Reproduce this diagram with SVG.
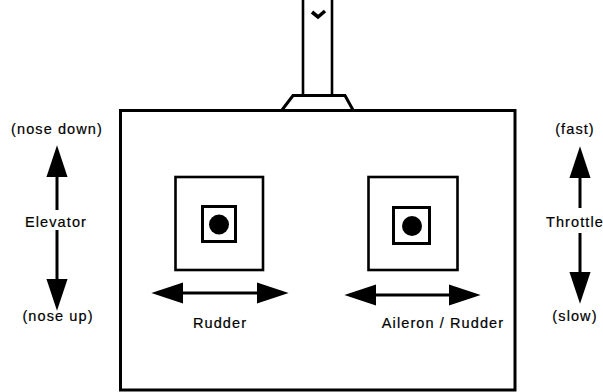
<svg xmlns="http://www.w3.org/2000/svg" width="603" height="392" viewBox="0 0 603 392">
  <style>
    .ln { fill: none; stroke: #000; stroke-width: 2.6; }
    .thick { fill: none; stroke: #000; stroke-width: 3; }
    .shaft { fill: none; stroke: #000; stroke-width: 3; marker-end: url(#head); }
    .both { fill: none; stroke: #000; stroke-width: 3; marker-start: url(#head); marker-end: url(#head); }
    .lbl { font-family: "Liberation Sans", Arial, Helvetica, sans-serif; font-size: 14.5px; letter-spacing: 1.1px; fill: #000; stroke: #000; stroke-width: 0.2; }
    .mid { text-anchor: middle; }
  </style>
  <defs>
    <marker id="head" markerUnits="userSpaceOnUse" markerWidth="32" markerHeight="22" viewBox="0 0 30 20" refX="20" refY="10" orient="auto-start-reverse">
      <path d="M0,0 L30,10 L0,20 Z" fill="#000"/>
    </marker>
  </defs>

  <!-- transmitter body with antenna -->
  <g id="transmitter">
    <rect class="thick" x="120.5" y="110.5" width="394.5" height="279.5"/>
    <path class="ln" d="M303,0 V95 M332,0 V95"/>
    <path fill="none" stroke="#000" stroke-width="3.6" stroke-linejoin="miter" d="M312,12 L318,17 L325,11"/>
    <path class="thick" d="M282,110 L293,95.5 H345 L353,110"/>
  </g>

  <!-- left stick -->
  <g id="left-stick">
    <rect class="ln" x="175.5" y="177" width="87.5" height="93"/>
    <rect class="thick" x="202.5" y="206.5" width="33" height="35"/>
    <circle cx="219" cy="224.5" r="10" fill="#000"/>
  </g>

  <!-- right stick -->
  <g id="right-stick">
    <rect class="ln" x="368.5" y="177" width="89" height="93"/>
    <rect class="thick" x="393.5" y="207.5" width="36" height="36"/>
    <circle cx="412" cy="226" r="10" fill="#000"/>
  </g>

  <!-- motion arrows -->
  <g id="connectors">
    <line class="shaft" x1="57" y1="210" x2="57" y2="156"/>
    <line class="shaft" x1="57" y1="230" x2="57" y2="300"/>
    <line class="shaft" x1="580" y1="208" x2="580" y2="157"/>
    <line class="shaft" x1="580" y1="233" x2="580" y2="293"/>
    <line class="both" x1="162" y1="293" x2="278" y2="293"/>
    <line class="both" x1="355" y1="295" x2="470" y2="295"/>
  </g>

  <!-- labels -->
  <g id="elevator-labels">
    <text class="lbl mid" x="57" y="134">(nose down)</text>
    <text class="lbl mid" x="56" y="227">Elevator</text>
    <text class="lbl mid" x="58" y="321">(nose up)</text>
  </g>
  <g id="throttle-labels">
    <text class="lbl mid" x="575" y="134">(fast)</text>
    <text class="lbl" x="546" y="227">Throttle</text>
    <text class="lbl mid" x="575" y="321">(slow)</text>
  </g>
  <g id="stick-labels">
    <text class="lbl mid" x="220" y="328">Rudder</text>
    <text class="lbl mid" x="443" y="328">Aileron / Rudder</text>
  </g>
</svg>
